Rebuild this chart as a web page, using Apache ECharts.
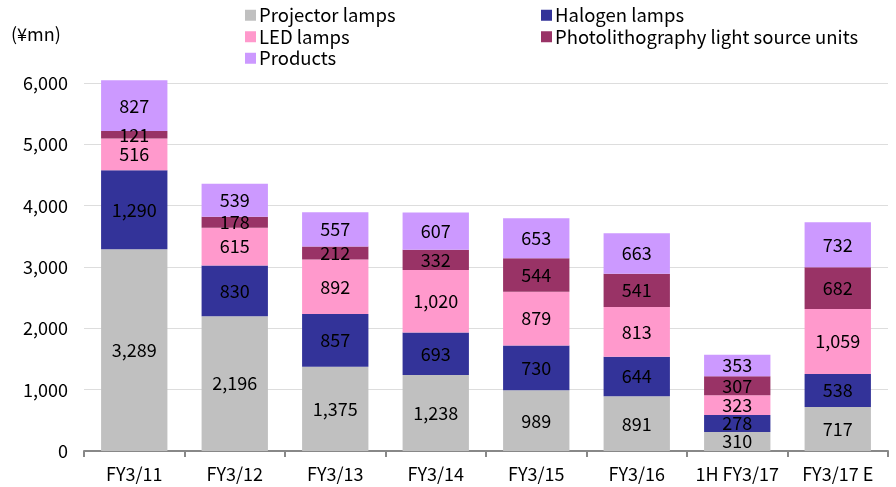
<!DOCTYPE html>
<html><head><meta charset="utf-8">
<script src="https://cdn.jsdelivr.net/npm/echarts@6/dist/echarts.min.js"></script>
<style>html,body{margin:0;padding:0;background:#fff}#c{width:896px;height:487px}</style>
</head><body><div id="c"></div>
<script>
const categories = ['FY3/11','FY3/12','FY3/13','FY3/14','FY3/15','FY3/16','1H FY3/17','FY3/17 E'];
const projector = [3289,2196,1375,1238,989,891,310,717];
const halogen = [1290,830,857,693,730,644,278,538];
const led = [516,615,892,1020,879,813,323,1059];
const photo = [121,178,212,332,544,541,307,682];
const products = [827,539,557,607,653,663,353,732];
const yTicks = [0,1000,2000,3000,4000,5000,6000];

const FONT = '"Noto Sans CJK JP", "DejaVu Sans", sans-serif';
const chart = echarts.init(document.getElementById('c'));
function s(name, data, color) {
  return {
    name, type: 'bar', stack: 'a', data, barWidth: '66%', clip: false,
    itemStyle: {color},
    label: {show: true, position: 'inside', color: '#000', fontSize: 18, fontFamily: FONT,
      formatter: p => p.value.toLocaleString('en-US')}
  };
}
const legendBase = {icon: 'rect', itemWidth: 11, itemHeight: 11, itemGap: 3, orient: 'vertical',
  textStyle: {fontSize: 18.5, fontFamily: FONT, color: '#000', padding: [0,0,0,-2]}, selectedMode: false};
chart.setOption({
  animation: false,
  grid: {left: 84, right: 8, top: 83, bottom: 36},
  legend: [
    Object.assign({}, legendBase, {left: 240, top: 1, data: ['Projector lamps','LED lamps','Products']}),
    Object.assign({}, legendBase, {left: 536, top: 1, data: ['Halogen lamps','Photolithography light source units']})
  ],
  graphic: [{type: 'text', left: 11, top: 25, style: {text: '(¥mn)', fontSize: 18, fontFamily: FONT, fill: '#000'}}],
  xAxis: {type: 'category', data: categories,
    axisLine: {lineStyle: {color: '#888', width: 2}},
    axisTick: {show: true, length: 6, lineStyle: {color: '#888', width: 2}},
    axisLabel: {color: '#000', fontSize: 18, fontFamily: FONT, margin: 14, interval: 0}},
  yAxis: {type: 'value', min: 0, max: 6000, interval: 1000,
    axisLine: {show: false}, axisTick: {show: false},
    splitLine: {lineStyle: {color: '#ddd'}},
    axisLabel: {color: '#000', fontSize: 18, fontFamily: FONT, margin: 16,
      formatter: v => yTicks.includes(v) ? v.toLocaleString('en-US') : ''}},
  series: [
    s('Projector lamps', projector, '#C0C0C0'),
    s('Halogen lamps', halogen, '#333399'),
    s('LED lamps', led, '#FF99CC'),
    s('Photolithography light source units', photo, '#993366'),
    s('Products', products, '#CC99FF')
  ]
});
</script></body></html>
